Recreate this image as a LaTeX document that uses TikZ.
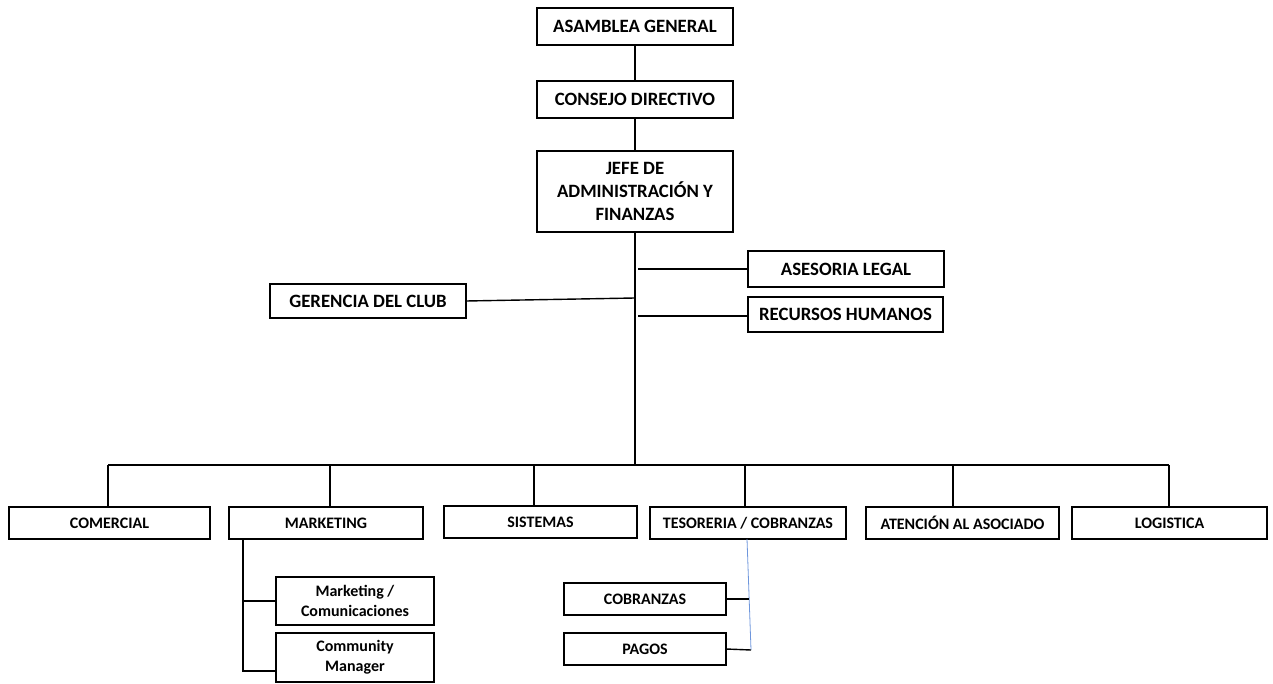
\documentclass[tikz,border=0pt]{standalone}
\usepackage{fontspec}
\setmainfont{Carlito}
\begin{document}
\begin{tikzpicture}[x=1pt,y=-1pt,
  box/.style={draw, line width=1.4pt, anchor=north west, inner sep=0pt, outer sep=0pt, align=center, font=\fontsize{18.8}{23}\selectfont\bfseries},
  sbox/.style={box, font=\fontsize{16}{20}\selectfont\bfseries},
  conn/.style={line width=1.4pt},
  bconn/.style={line width=0.8pt, draw={rgb,255:red,110;green,150;blue,220}}]
\useasboundingbox (0,0) rectangle (1273,684);
% top
\node[box, minimum width=196pt, minimum height=37pt] (ag) at (537,8) {ASAMBLEA GENERAL};
\node[box, minimum width=196pt, minimum height=37pt] (cd) at (537,81) {CONSEJO DIRECTIVO};
\node[box, minimum width=196pt, minimum height=81pt] (jefe) at (537,151) {JEFE DE\\ADMINISTRACIÓN Y\\FINANZAS};
\node[box, minimum width=196pt, minimum height=36pt] (al) at (748,251) {ASESORIA LEGAL};
\node[box, minimum width=195pt, minimum height=35pt] (rh) at (748,297) {RECURSOS HUMANOS};
\node[box, minimum width=196pt, minimum height=34pt] (gc) at (270,284) {GERENCIA DEL CLUB};
% bottom row
\node[sbox, minimum width=201pt, minimum height=32pt] (com) at (9,507) {COMERCIAL};
\node[sbox, minimum width=194pt, minimum height=32pt] (mkt) at (229,507) {MARKETING};
\node[sbox, minimum width=193pt, minimum height=32pt] (sis) at (444,506) {SISTEMAS};
\node[sbox, minimum width=196pt, minimum height=32pt] (tes) at (650,507) {TESORERIA / COBRANZAS};
\node[sbox, minimum width=193pt, minimum height=32pt] (ate) at (866,507) {ATENCIÓN AL ASOCIADO};
\node[sbox, minimum width=195pt, minimum height=32pt] (log) at (1072,507) {LOGISTICA};
% sub boxes
\node[sbox, minimum width=158pt, minimum height=48pt] (mc) at (276,577) {Marketing /\\Comunicaciones};
\node[sbox, minimum width=158pt, minimum height=49pt] (cm) at (276,633) {Community\\Manager};
\node[sbox, minimum width=162pt, minimum height=32pt] (cob) at (564,583) {COBRANZAS};
\node[sbox, minimum width=162pt, minimum height=32pt] (pag) at (564,633) {PAGOS};
% coordinates
\coordinate (tr) at (635,465);
\coordinate (busL) at (108,465);
\coordinate (busR) at (1169,465);
\coordinate (dmkt) at (330,465);
\coordinate (dsis) at (534,465);
\coordinate (dtes) at (745,465);
\coordinate (date) at (953,465);
\coordinate (jal) at (638,269);
\coordinate (jgc) at (635,298);
\coordinate (jrh) at (638,316);
\coordinate (mtop) at (243,539);
\coordinate (mbot) at (243,671);
\coordinate (ttop) at (747,539);
\coordinate (tbot) at (751,650);
% connectors
\draw[conn] (ag.south) -- (cd.north);
\draw[conn] (cd.south) -- (jefe.north);
\draw[conn] (jefe.south) -- (tr);
\draw[conn] (jal) -- (jal -| al.west);
\draw[conn] (jrh) -- (jrh -| rh.west);
\draw[conn] (gc.east) -- (jgc);
\draw[conn] (busL) -- (busR);
\draw[conn] (busL) -- (busL |- com.north);
\draw[conn] (dmkt) -- (dmkt |- mkt.north);
\draw[conn] (dsis) -- (dsis |- sis.north);
\draw[conn] (dtes) -- (dtes |- tes.north);
\draw[conn] (date) -- (date |- ate.north);
\draw[conn] (busR) -- (busR |- log.north);
\draw[conn] (mtop) -- (mbot) -- (cm.west |- mbot);
\draw[conn] (mtop |- mc.west) -- (mc.west);
\draw[bconn] (ttop) -- (tbot);
\draw[conn] (cob.east) -- ++(23,0);
\draw[conn] (pag.east) -- (tbot);
\end{tikzpicture}
\end{document}
